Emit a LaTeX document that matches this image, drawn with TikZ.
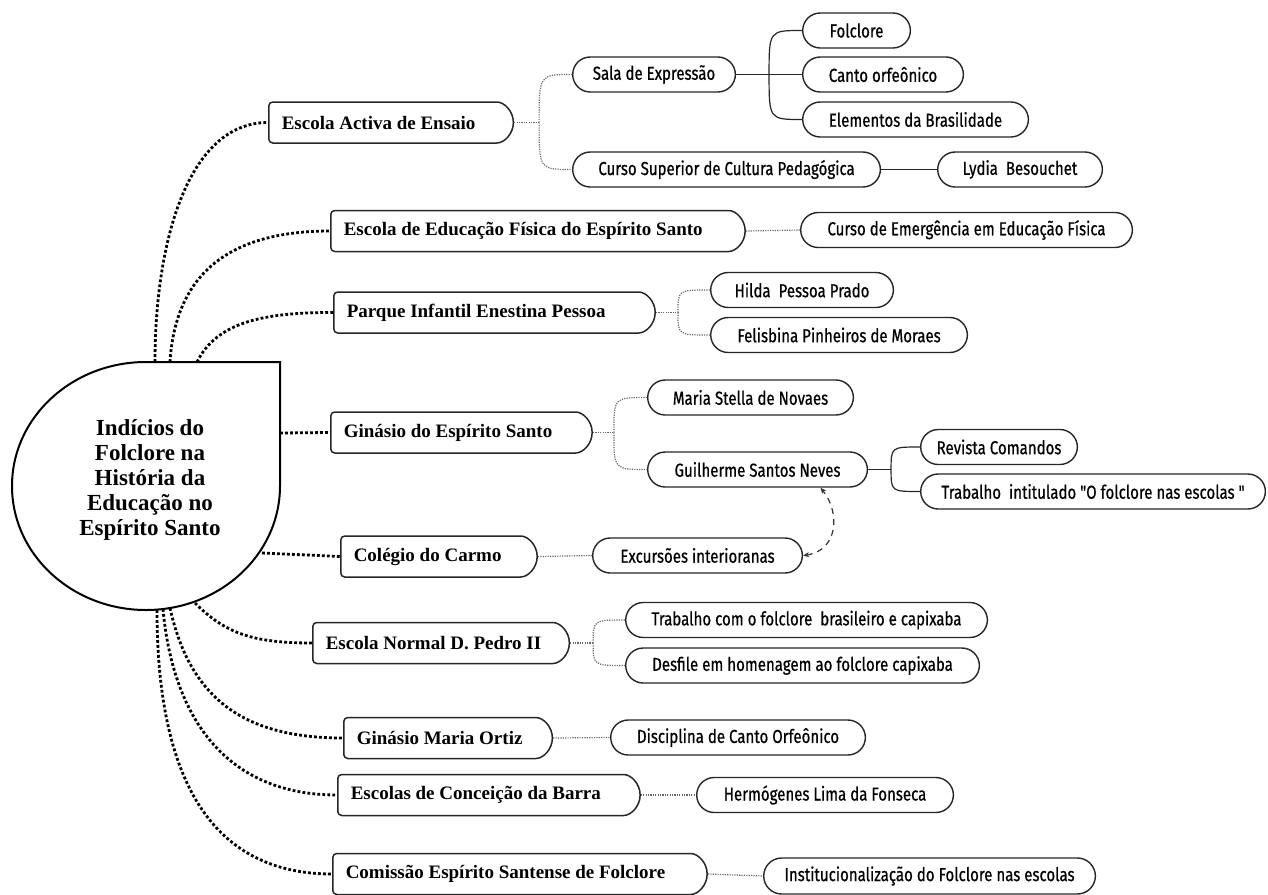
\documentclass[tikz,border=0pt]{standalone}
\usepackage{fontspec}
\setmainfont{Liberation Serif}
\newfontfamily\leaffont[FakeStretch=0.8,FakeBold=0.6]{Fira Sans}
\usetikzlibrary{shapes.misc,arrows.meta}
\newcommand{\Fork}[3]{
	\draw[#1] (#2) .. controls (#2 |- #3.west) .. (#3.west);
}
\newcommand{\Topic}[4]{
	\node[topic] (#1) at (#2) {\makebox[\dimexpr#3+9pt\relax][l]{#4}};
}

\begin{document}
\begin{tikzpicture}[x=0.5pt,y=-0.5pt,
	topic/.style={rounded rectangle, rounded rectangle left arc=none, rounded corners=2pt,
		draw=black!85, line width=0.75pt, fill=white, anchor=west, minimum height=20.5pt,
		inner xsep=6.5pt, font=\bfseries\fontsize{9.5}{11}\selectfont},
	leaf/.style={rounded rectangle, draw=black!85, line width=0.7pt, fill=white, anchor=west,
		minimum height=17.5pt, minimum width={#1+6.5pt}, font=\leaffont\fontsize{9.4}{11}\selectfont},
	bigdots/.style={line width=1.4pt, dash pattern=on 1.4pt off 1.1pt},
	smalldots/.style={line width=0.6pt, dash pattern=on 0.6pt off 0.6pt, black!60},
	plain/.style={line width=0.6pt, black!85}]
		\useasboundingbox (0,0) rectangle (1268,894);

		\draw[line width=1pt, fill=white] (12,486) .. controls (12,417.5) and (72,362) .. (146,362)
			-- (280,362) -- (280,486) .. controls (280,554.5) and (220,610) .. (146,610)
			.. controls (72,610) and (12,554.5) .. (12,486) -- cycle;
		\node[align=center, font=\bfseries\fontsize{11.5}{12.6}\selectfont] (root) at (150,480)
			{Indícios do\\Folclore na\\História da\\Educação no\\Espírito Santo};
		\coordinate (r1) at (155,362);
		\coordinate (r2) at (170,362);
		\coordinate (r3) at (197,362);
		\coordinate (r4) at (280,433);
		\coordinate (r5) at (262,553);
		\coordinate (r6) at (195,603);
		\coordinate (r7) at (170,608);
		\coordinate (r8) at (163,609);
		\coordinate (r9) at (157,610);

		\Topic{eae}{268,122.5}{99.75pt}{Escola Activa de Ensaio}
		\Topic{eef}{330,231}{184.25pt}{Escola de Educação Física do Espírito Santo}
		\Topic{pie}{333,312.5}{137.75pt}{Parque Infantil Enestina Pessoa}
		\Topic{ges}{330,432.5}{107.75pt}{Ginásio do Espírito Santo}
		\Topic{cdc}{340,556.5}{75.25pt}{Colégio do Carmo}
		\Topic{enp}{312,643}{105.75pt}{Escola Normal D. Pedro II}
		\Topic{gmo}{343,738}{81.75pt}{Ginásio Maria Ortiz}
		\Topic{ecb}{337,795}{128.25pt}{Escolas de Conceição da Barra}
		\Topic{cef}{332,874}{164.25pt}{Comissão Espírito Santense de Folclore}

		\node[leaf=81.5pt] (sde) at (572,74.5) {Sala de Expressão};
		\node[leaf=154pt] (cscp) at (572,169.5) {Curso Superior de Cultura Pedagógica};
		\node[leaf=54pt] (fol) at (802,30.5) {Folclore};
		\node[leaf=80.5pt] (cor) at (802,74.5) {Canto orfeônico};
		\node[leaf=113pt] (edb) at (802,119.5) {Elementos da Brasilidade};
		\node[leaf=82.5pt] (lyd) at (937,169.5) {Lydia\ \ Besouchet};
		\node[leaf=166pt] (cee) at (800,230) {Curso de Emergência em Educação Física};
		\node[leaf=91.5pt] (hpp) at (710,290) {Hilda\ \ Pessoa Prado};
		\node[leaf=128.5pt] (fpm) at (710,335) {Felisbina Pinheiros de Moraes};
		\node[leaf=103pt] (msn) at (647,397.5) {Maria Stella de Novaes};
		\node[leaf=110pt] (gsn) at (647,469.5) {Guilherme Santos Neves};
		\node[leaf=78.5pt] (rco) at (920,447) {Revista Comandos};
		\node[leaf=172.5pt] (tfe) at (920,491.5) {Trabalho\ \ intitulado "O folclore nas escolas "};
		\node[leaf=105pt] (exc) at (592,555.5) {Excursões interioranas};
		\node[leaf=181pt] (tfb) at (625,620) {Trabalho com o folclore\ \ brasileiro e capixaba};
		\node[leaf=177pt] (dfh) at (625,665.5) {Desfile em homenagem ao folclore capixaba};
		\node[leaf=127.5pt] (dco) at (610,737.5) {Disciplina de Canto Orfeônico};
		\node[leaf=128.5pt] (hlf) at (696,795) {Hermógenes Lima da Fonseca};
		\node[leaf=166pt, minimum height=18pt] (ife) at (763,876) {Institucionalização do Folclore nas escolas};

		\draw[bigdots] (r1) .. controls +(0,-120) and +(-80,0) .. (eae.west);
		\draw[bigdots] (r2) .. controls +(5,-80) and +(-110,0) .. (eef.west);
		\draw[bigdots] (r3) .. controls +(20,-40) and +(-70,0) .. (pie.west);
		\draw[bigdots] (r4) -- (ges.west);
		\draw[bigdots] (r5) -- (cdc.west);
		\draw[bigdots] (r6) .. controls +(30,30) and +(-60,0) .. (enp.west);
		\draw[bigdots] (r7) .. controls +(20,90) and +(-100,0) .. (gmo.west);
		\draw[bigdots] (r8) .. controls +(10,110) and +(-110,0) .. (ecb.west);
		\draw[bigdots] (r9) .. controls +(0,170) and +(-120,0) .. (cef.west);

		\draw[smalldots] (eae.east) -- ++(25,0) coordinate (j1);
		\Fork{smalldots}{j1}{sde}
		\Fork{smalldots}{j1}{cscp}
		\draw[plain] (sde.east) -- (cor.west);
		\coordinate (j2) at ([xshift=16.5pt]sde.east);
		\Fork{plain}{j2}{fol}
		\Fork{plain}{j2}{edb}
		\draw[plain] (cscp.east) -- (lyd.west);
		\draw[smalldots] (eef.east) -- (cee.west);
		\draw[smalldots] (pie.east) -- ++(22,0) coordinate (j3);
		\Fork{smalldots}{j3}{hpp}
		\Fork{smalldots}{j3}{fpm}
		\draw[smalldots] (ges.east) -- ++(21,0) coordinate (j4);
		\Fork{smalldots}{j4}{msn}
		\Fork{smalldots}{j4}{gsn}
		\draw[plain] (gsn.east) -- ++(23,0) coordinate (j5);
		\Fork{plain}{j5}{rco}
		\Fork{plain}{j5}{tfe}
		\draw[smalldots] (cdc.east) -- (exc.west);
		\draw[black!80, line width=0.6pt, dash pattern=on 3pt off 2.5pt, {Stealth[length=3pt,width=2.5pt]}-{Stealth[length=3pt,width=2.5pt]}]
			(exc.east) .. controls +(35,-5) and +(20,25) .. ([xshift=31.5pt]gsn.south);
		\draw[smalldots] (enp.east) -- ++(23,0) coordinate (j6);
		\Fork{smalldots}{j6}{tfb}
		\Fork{smalldots}{j6}{dfh}
		\draw[smalldots] (gmo.east) -- (dco.west);
		\draw[smalldots] (ecb.east) -- (hlf.west);
		\draw[smalldots] (cef.east) -- (ife.west);
	\end{tikzpicture}
\end{document}
